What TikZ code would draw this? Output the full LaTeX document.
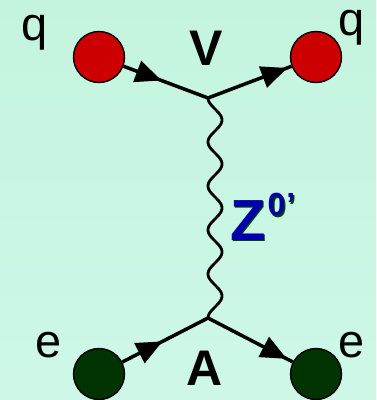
\documentclass[tikz,border=0pt]{standalone}
\usepackage{fontspec}
\setmainfont{Liberation Sans}
\usetikzlibrary{positioning, arrows.meta, decorations.markings}

\definecolor{quarkred}{RGB}{204,0,0}
\definecolor{leptongreen}{RGB}{0,51,0}
\definecolor{zblue}{RGB}{0,0,170}
\definecolor{zshade}{RGB}{0,70,0}
\definecolor{bgtop}{RGB}{196,244,222}
\definecolor{bgbot}{RGB}{206,247,232}

\newcommand{\zprime}{Z\hspace{2pt}\raisebox{0.42em}{\fontsize{32}{34}\selectfont 0\hspace{1pt}’}}

\begin{document}
\begin{tikzpicture}[x=1pt, y=-1pt,
    particle/.style={circle, draw=black, line width=1.4pt, minimum size=51pt, inner sep=0pt},
    fermion/.style={line width=3.5pt, postaction={decorate}, decoration={markings,
        mark=at position #1 with {\arrow{Triangle[length=26pt, width=22pt]}}}},
    boson/.style={line width=2.8pt, line join=round},
    flavour/.style={anchor=base, inner sep=0pt, font=\fontsize{47}{50}\selectfont},
    coupling/.style={anchor=base, inner sep=0pt, font=\fontsize{50}{54}\selectfont\bfseries}]
    \shade[top color=bgtop, bottom color=bgbot] (0,0) rectangle (376,400);
    \useasboundingbox (0,0) rectangle (376,400);

    % vertices
    \coordinate (vtop) at (208,98);
    \coordinate (vbot) at (208,318);

    % propagator, five wiggles from vertex to vertex
    \draw[boson] (vtop) -- plot[domain=0:5, samples=161, smooth]
        ({208+7*(1-cos(\x*360))}, {98+44*\x}) -- (vbot);

    % quark line
    \node[particle, fill=quarkred] (qin) at (99,57) {};
    \node[particle, fill=quarkred] (qout) at (316,57) {};
    \draw[fermion=0.45] (qin) -- (vtop);
    \draw[fermion=0.95] (vtop) -- (qout);

    % electron line
    \node[particle, fill=leptongreen] (ein) at (99,374) {};
    \node[particle, fill=leptongreen] (eout) at (316,374) {};
    \draw[fermion=0.47] (ein) -- (vbot);
    \draw[fermion=0.93] (vbot) -- (eout);

    % labels
    \node[flavour] (qinlbl) at (35,40) {q};
    \node[flavour] (qoutlbl) at (352,35) {q};
    \node[flavour] (einlbl) at (49,357) {e};
    \node[flavour] (eoutlbl) at (352,357) {e};
    \node[coupling] (vlbl) at (206,65) {V};
    \node[coupling] (albl) at (205,385) {A};
    \node[coupling, anchor=base west, text=zshade, font=\fontsize{58}{60}\selectfont\bfseries]
        (zshadow) at (231.5,241.5) {\zprime};
    \node[coupling, anchor=base west, text=zblue, font=\fontsize{58}{60}\selectfont\bfseries]
        (zlbl) at (230,240) {\zprime};
\end{tikzpicture}
\end{document}
